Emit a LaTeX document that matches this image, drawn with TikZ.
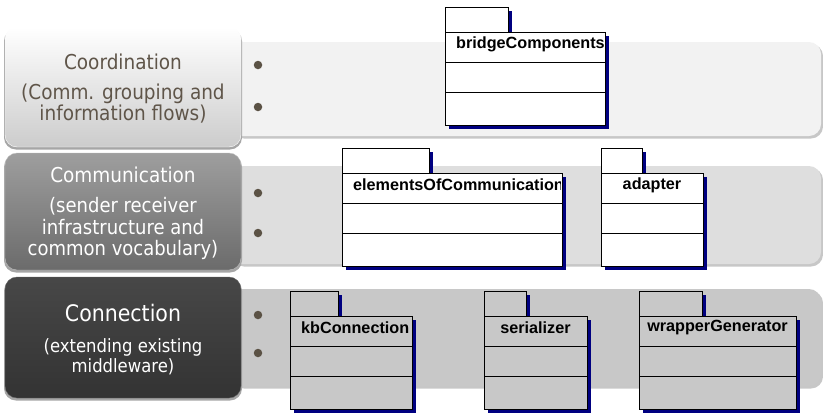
\documentclass[tikz,border=0pt]{standalone}
\usepackage{fontspec}
\newfontfamily\lblfont{DejaVu Sans Condensed}
\newfontfamily\pkgfont{Liberation Sans}
\definecolor{bandA}{HTML}{F2F2F2}
\definecolor{bandB}{HTML}{DEDEDE}
\definecolor{bandC}{HTML}{C8C8C8}
\definecolor{bulletcol}{HTML}{5B5245}
\definecolor{coordtext}{HTML}{5F5549}
\definecolor{pkgshadow}{HTML}{000080}
\tikzset{
  bandshadow/.style={fill=black!22, rounded corners=12pt},
  bullet/.style={circle, fill=bulletcol, inner sep=0pt, minimum size=8.5pt},
  boxshadow/.style={fill=black!35, rounded corners=12pt},
  pkgline/.style={draw=black, line width=0.8pt},
  pkglabel/.style={font=\pkgfont\bfseries\fontsize{16.2}{18}\selectfont, inner sep=0pt},
  ttl/.style={font=\lblfont\fontsize{20.5}{22}\selectfont, align=center, inner sep=0pt},
  sub/.style={font=\lblfont\fontsize{20.5}{21.3}\selectfont, align=center, inner sep=0pt},
}
% #1 name, #2 x1, #3 tab top, #4 tab right, #5 x2, #6 fill, #7 text, #8 1=clipped left text / 0=centered
\newcommand\umlpkg[8]{%
  \fill[pkgshadow] ({#2+4},{#3+4}) rectangle ({#4+4},{#3+29});
  \fill[pkgshadow] ({#2+4},{#3+29}) rectangle ({#5+4},{#3+122});
  \filldraw[pkgline, fill=#6] (#2,#3) rectangle (#4,{#3+25.5});
  \filldraw[pkgline, fill=#6] (#2,{#3+25.5}) rectangle (#5,{#3+118});
  \draw[pkgline] (#2,{#3+55}) -- (#5,{#3+55});
  \draw[pkgline] (#2,{#3+85}) -- (#5,{#3+85});
  \ifnum#8=1
    \begin{scope}
      \clip (#2,{#3+26}) rectangle ({#5-2},{#3+54});
      \node[pkglabel, anchor=west] (#1) at ({#2+11},{#3+37}) {#7};
    \end{scope}
  \else
    \node[pkglabel] (#1) at ({(#2+#5)/2},{#3+37}) {#7};
  \fi
}
\begin{document}
\begin{tikzpicture}[x=1pt,y=-1pt]
\useasboundingbox (0,0) rectangle (823,413);
% bands
\fill[bandshadow] (232,44) rectangle (823,138.5);
\fill[bandA, rounded corners=12pt] (230,42) rectangle (821,136);
\fill[bandshadow] (232,168) rectangle (823,266.5);
\fill[bandB, rounded corners=12pt] (230,166) rectangle (821,264);
\fill[bandshadow] (232,291) rectangle (823,388.5);
\fill[bandC, rounded corners=12pt] (230,289) rectangle (821,386);
% left boxes
\fill[boxshadow] (4,29) rectangle (242,149.5);
\shade[rounded corners=12pt, top color=white, bottom color=black!20, draw=white] (5,27) rectangle (241,147);
\fill[boxshadow] (4,155) rectangle (242,272.5);
\shade[rounded corners=12pt, top color=black!38, bottom color=black!58, draw=black!25] (5,153) rectangle (241,270);
\fill[boxshadow] (4,279) rectangle (242,400.5);
\shade[rounded corners=12pt, top color=black!72, bottom color=black!80, draw=black!60] (5,277) rectangle (241,398);
% texts
\node[ttl, text=coordtext] (coordT) at (123,62) {Coordination};
\node[sub, text=coordtext] (coordS) at (123,103.5) {(Comm. grouping and\\information flows)};
\node[ttl, text=white] (commT) at (123,175) {Communication};
\node[sub, text=white, font=\lblfont\fontsize{20}{21.5}\selectfont] (commS) at (123,228.5) {(sender receiver\\infrastructure and\\common vocabulary)};
\node[ttl, text=white, font=\lblfont\fontsize{22.8}{24}\selectfont] (connT) at (123,313) {Connection};
\node[sub, text=white, font=\lblfont\fontsize{18.3}{20}\selectfont] (connS) at (123,357) {(extending existing\\middleware)};
% bullets
\node[bullet] (b1) at (258,65) {};
\node[bullet] (b2) at (258,107) {};
\node[bullet] (b3) at (258,193) {};
\node[bullet] (b4) at (258,233) {};
\node[bullet] (b5) at (258,315) {};
\node[bullet] (b6) at (258,353) {};
% packages
\umlpkg{bridge}{445}{7}{508}{605}{white}{bridgeComponents}{1}
\umlpkg{elems}{342}{148}{429}{562}{white}{elementsOfCommunication}{1}
\umlpkg{adapter}{601}{148}{642}{703}{white}{adapter}{0}
\umlpkg{kbconn}{290}{291}{338}{412}{bandC}{kbConnection}{1}
\umlpkg{serial}{484}{291}{526}{587}{bandC}{serializer}{0}
\umlpkg{wrapgen}{639}{291}{702}{796}{bandC}{wrapperGenerator}{0}
\end{tikzpicture}
\end{document}
